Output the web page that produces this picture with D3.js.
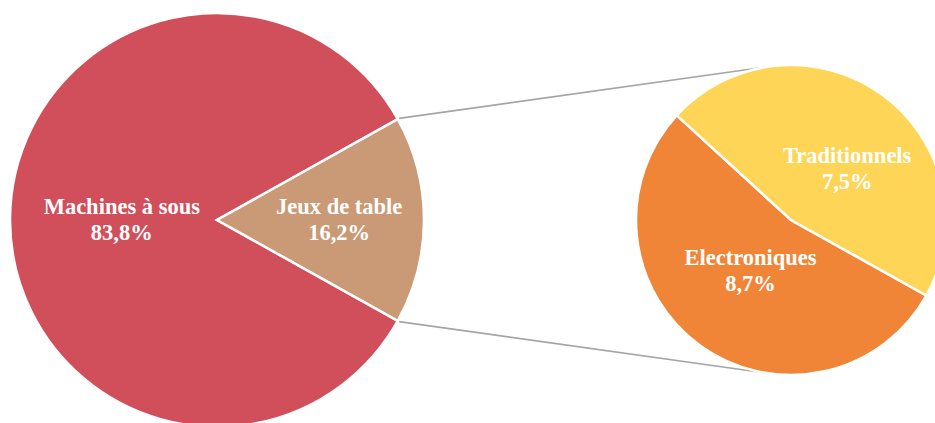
<!DOCTYPE html>
<html><head><meta charset="utf-8">
<script src="https://cdn.jsdelivr.net/npm/d3@7"></script>
<style>html,body{margin:0;padding:0;background:#fff;}svg{display:block;}</style>
</head><body>
<svg id="chart" width="935" height="423"></svg>
<script>
// ---- data ----
const categories = ["Machines à sous", "Jeux de table"];
const values = [83.8, 16.2];
const subCategories = ["Electroniques", "Traditionnels"];
const subValues = [8.7, 7.5];
const valueLabels = ["83,8%", "16,2%"];
const subValueLabels = ["8,7%", "7,5%"];

// ---- layout / style ----
const colors = {"Machines à sous":"#D04F5B","Jeux de table":"#C99A75","Electroniques":"#F08537","Traditionnels":"#FED557"};
const main = {cx:217, cy:220, r:207};
const sub = {cx:791, cy:220, r:155};
const labelLayout = {
  "Machines à sous":{rf:0.46, shift:0},
  "Jeux de table":{rf:0.59, shift:0},
  "Electroniques":{rf:0.42, shift:2.7},
  "Traditionnels":{rf:0.49, shift:11.9}
};
const fontSize = 22.5, lineGap = 26;

const svg = d3.select("#chart");
const total = d3.sum(values);
const splitFrac = values[1] / total;
const start = Math.PI/2 + splitFrac*Math.PI;

const pieMain = d3.pie().sort(null).startAngle(start).endAngle(start + 2*Math.PI);
const pieSub = d3.pie().sort(null).startAngle(start).endAngle(start + 2*Math.PI);
const mainArcs = pieMain(values).map((a,i)=>Object.assign(a,{name:categories[i], label:valueLabels[i]}));
const subArcs = pieSub(subValues).map((a,i)=>Object.assign(a,{name:subCategories[i], label:subValueLabels[i]}));

// connector lines: from Jeux de table edges, tangent to secondary pie
const jeux = mainArcs[1];
function polar(c, r, a){ return [c.cx + r*Math.sin(a), c.cy - r*Math.cos(a)]; }
const pTop = polar(main, main.r + 1.5, jeux.startAngle);
const pBot = polar(main, main.r + 1.5, jeux.endAngle);
function tangent(p, upper){
  const dx = p[0]-sub.cx, dy = p[1]-sub.cy;
  const d = Math.hypot(dx,dy);
  const dir = Math.atan2(dy,dx);
  const off = Math.acos(sub.r/d);
  const a = upper ? dir + off : dir - off;
  return [sub.cx + sub.r*Math.cos(a), sub.cy + sub.r*Math.sin(a)];
}
const tTop = tangent(pTop, true);
const tBot = tangent(pBot, false);
svg.append("g").selectAll("line").data([[pTop,tTop],[pBot,tBot]]).join("line")
  .attr("x1",d=>d[0][0]).attr("y1",d=>d[0][1]).attr("x2",d=>d[1][0]).attr("y2",d=>d[1][1])
  .attr("stroke","#A5A5A5").attr("stroke-width",1.6);

function drawPie(arcs, c){
  const arc = d3.arc().innerRadius(0).outerRadius(c.r);
  const g = svg.append("g").attr("transform",`translate(${c.cx},${c.cy})`);
  g.selectAll("path").data(arcs).join("path")
    .attr("d",arc).attr("fill",d=>colors[d.name])
    .attr("stroke","#fff").attr("stroke-width",2.5).attr("stroke-linejoin","miter");
  const lbl = g.selectAll("text").data(arcs).join("text")
    .attr("text-anchor","middle")
    .attr("font-family","'Liberation Serif','Times New Roman',serif")
    .attr("font-weight","bold").attr("font-size",fontSize).attr("fill","#fff")
    .attr("transform",d=>{
      const L = labelLayout[d.name];
      const a = (d.startAngle+d.endAngle)/2 + L.shift*Math.PI/180;
      const r = L.rf*c.r;
      return `translate(${r*Math.sin(a)},${-r*Math.cos(a)})`;
    });
  lbl.append("tspan").attr("x",0).attr("y",-6).text(d=>d.name);
  lbl.append("tspan").attr("x",0).attr("y",-6+lineGap).text(d=>d.label);
}
drawPie(mainArcs, main);
drawPie(subArcs, sub);
</script>
</body></html>
